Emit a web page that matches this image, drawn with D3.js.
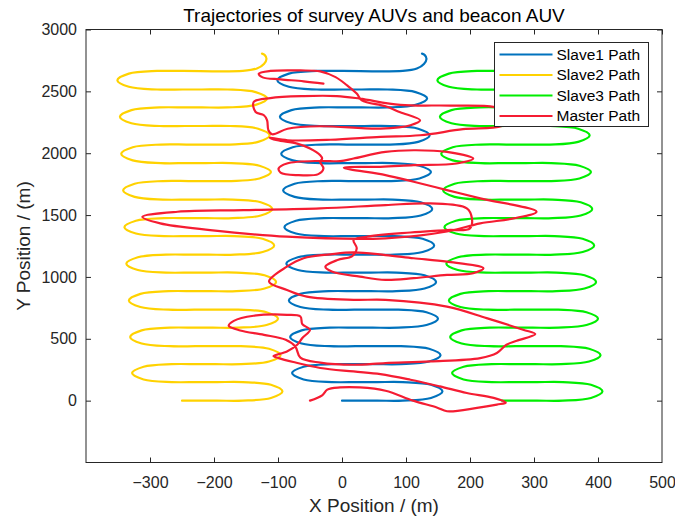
<!DOCTYPE html>
<html lang="en">

<head>
    <meta charset="UTF-8">
    <title>Trajectories of survey AUVs and beacon AUV</title>
    <script src="https://cdn.jsdelivr.net/npm/d3@7"></script>
    <style>
        body { margin: 0; background: #fff; }
        svg { font-family: "Liberation Sans", Arial, Helvetica, sans-serif; }
    </style>
</head>

<body>
    <svg id="chart" width="675" height="520"></svg>

    <script>
        // --- data (metres) ---

        // y of every straight survey pass, same for all three slaves
        const legY = [0, 150, 295, 440, 590, 735, 885, 1035, 1180, 1330, 1475, 1625, 1775, 1920, 2070, 2220, 2370, 2515, 2665]
        // x where each turn reaches furthest (Slave1 frame)
        const rightTurnX = [157, 154, 150, 147, 144, 141, 139, 137, 133]
        const leftTurnX = [-78, -81, -83, -87, -90, -92, -95, -97, -101]
        // last half-finished turn at the top
        const tailX = [95, 117, 128, 132, 129, 125]
        const tailY = [2666, 2685, 2722, 2762, 2795, 2805]

        const slaveNames = ['Slave1 Path', 'Slave2 Path', 'Slave3 Path']
        const slaveStartX = [0, -250, 250]

        // beacon (master) auv
        const masterX = [-50, -31, -23, -3, 28, 68, 111, 149, 164, 211, 242, 256, 237, 195, 153, 107, 60, 18, -34, -76,
            -99, -107, -86, -70, -62, -50, -62, -65, -86, -138, -169, -177, -159, -122, -88, -73, -65, -34, 18, 68,
            138, 216, 242, 257, 273, 302, 283, 226, 164, 68, 18, -55, -86, -114, -86, -60, -18, 18, 68, 112,
            164, 221, 205, 164, 112, 68, 28, -16, -26, -7, 16, 23, 18, 36, 107, 164, 200, 203, 195, 138,
            68, -34, -154, -257, -312, -284, -206, -86, 68, 164, 216, 268, 304, 216, 164, 112, 68, 3, 60, 112,
            179, 205, 164, 112, 68, 18, -3, -34, -86, -99, -96, -70, -37, -29, -34, -31, -34, -50, -70, -101,
            -113, -85, -18, 60, 122, 189, 250, 278, 239, 169, 91, 28, -8, -60, -112, -138, -135, -122, -117, -115,
            -109, -85, -34, 60, 107, 122, 91, 68, 31, 23, 8, -10, -34, -65, -112, -130, -124, -96, -60, -29]
        const masterY = [0, 43, 89, 107, 107, 80, 0, -57, -86, -59, -32, -16, 22, 62, 115, 169, 215, 236, 264, 312,
            344, 360, 398, 452, 506, 573, 618, 680, 694, 686, 645, 605, 567, 532, 492, 438, 347, 307, 290, 304,
            317, 344, 385, 452, 484, 538, 573, 667, 760, 815, 815, 841, 895, 962, 1083, 1151, 1183, 1199, 1177, 1151,
            1123, 1070, 1030, 1016, 990, 976, 1002, 1043, 1083, 1137, 1169, 1232, 1298, 1323, 1359, 1379, 1393, 1473, 1554, 1594,
            1581, 1554, 1540, 1527, 1486, 1433, 1379, 1325, 1312, 1367, 1433, 1473, 1527, 1635, 1702, 1769, 1823, 1883, 1890, 1903,
            1917, 1957, 2011, 2024, 2011, 1957, 1936, 1938, 1917, 1877, 1844, 1823, 1831, 1877, 1930, 1957, 1984, 2038, 2078, 2105,
            2125, 2105, 2109, 2132, 2145, 2194, 2220, 2307, 2373, 2385, 2391, 2441, 2462, 2462, 2446, 2414, 2333, 2307, 2266, 2186,
            2153, 2198, 2218, 2199, 2226, 2266, 2331, 2379, 2427, 2482, 2548, 2615, 2661, 2669, 2665, 2643, 2613, 2597, 2581, 2562]

        const xTicks = [-300, -200, -100, 0, 100, 200, 300, 400, 500]
        const yTicks = [0, 500, 1000, 1500, 2000, 2500, 3000]

        const colors = ['#0072bd', '#ffd200', '#00ee00', '#f51c32']

        // --- layout ---
        const width = 675, height = 520
        const margin = { top: 29.5, right: 13, bottom: 57.5, left: 86 }
        const axisColor = '#262626'
        const TURN_R = 62   // how far back from the apex a turn starts bending, in m
        const LEAD = 40     // extra straight bit before the bend, keeps the legs flat

        const svg = d3.select('#chart')

        const x = d3.scaleLinear().domain([-400, 500]).range([margin.left, width - margin.right])
        const y = d3.scaleLinear().domain([-500, 3000]).range([height - margin.bottom, margin.top])

        // build one lawnmower track: leg ends and turn apexes, smoothed by the curve
        const slaveTrack = (dx) => {
            const pts = [[dx + 0, legY[0]]]
            for (let i = 0; i < legY.length - 1; i++) {
                const right = i % 2 === 0
                const dir = right ? 1 : -1
                const apex = dx + (right ? rightTurnX[i / 2] : leftTurnX[(i - 1) / 2])
                const ym = (legY[i] + legY[i + 1]) / 2
                const hh = (legY[i + 1] - legY[i]) / 2
                pts.push([apex - dir * (TURN_R + LEAD), legY[i]])
                pts.push([apex - dir * TURN_R, legY[i]])
                pts.push([apex - dir * TURN_R * 0.29, ym - hh * 0.71])
                pts.push([apex, ym])
                pts.push([apex - dir * TURN_R * 0.29, ym + hh * 0.71])
                pts.push([apex - dir * TURN_R, legY[i + 1]])
                pts.push([apex - dir * (TURN_R + LEAD), legY[i + 1]])
            }
            tailX.forEach((tx, j) => pts.push([dx + tx, tailY[j]]))
            return pts
        }

        const line = d3.line()
            .x(d => x(d[0]))
            .y(d => y(d[1]))
            .curve(d3.curveCatmullRom.alpha(0.5))

        const tracks = slaveStartX.map(slaveTrack)
        tracks.push(masterX.map((v, i) => [v, masterY[i]]))

        // axes (MATLAB style: ticks pointing in, box all round)
        const gx = svg.append('g')
            .attr('transform', `translate(0,${height - margin.bottom})`)
            .call(d3.axisBottom(x).tickValues(xTicks).tickFormat(d3.format('d'))
                .tickSizeInner(-5).tickSizeOuter(0).tickPadding(14))
        const gy = svg.append('g')
            .attr('transform', `translate(${margin.left},0)`)
            .call(d3.axisLeft(y).tickValues(yTicks).tickFormat(d3.format('d'))
                .tickSizeInner(-5).tickSizeOuter(0).tickPadding(9))
        svg.append('g')
            .attr('transform', `translate(0,${margin.top})`)
            .call(d3.axisTop(x).tickValues(xTicks).tickSizeInner(-5).tickSizeOuter(0).tickFormat(''))
        svg.append('g')
            .attr('transform', `translate(${width - margin.right},0)`)
            .call(d3.axisRight(y).tickValues(yTicks).tickSizeInner(-5).tickSizeOuter(0).tickFormat(''))

        svg.selectAll('.domain').remove()
        svg.selectAll('.tick line').attr('stroke', axisColor)
        svg.selectAll('.tick text')
            .attr('fill', axisColor)
            .attr('font-size', 16)
            .attr('font-family', null)
        gx.selectAll('.tick').filter(d => d === 500).select('line').remove()

        // tracks
        svg.append('g')
            .selectAll('path')
            .data(tracks)
            .join('path')
            .attr('d', line)
            .attr('fill', 'none')
            .attr('stroke', (d, i) => colors[i])
            .attr('stroke-width', 2.2)
            .attr('stroke-linejoin', 'round')
            .attr('stroke-linecap', 'round')

        // box
        svg.append('rect')
            .attr('x', margin.left)
            .attr('y', margin.top)
            .attr('width', width - margin.left - margin.right)
            .attr('height', height - margin.top - margin.bottom)
            .attr('fill', 'none')
            .attr('stroke', axisColor)
            .attr('stroke-width', 1)

        // titles
        svg.append('text')
            .attr('x', (margin.left + width - margin.right) / 2)
            .attr('y', 22)
            .attr('text-anchor', 'middle')
            .attr('font-size', 19)
            .attr('fill', '#000')
            .text('Trajectories of survey AUVs and beacon AUV')

        svg.append('text')
            .attr('x', (margin.left + width - margin.right) / 2)
            .attr('y', 512)
            .attr('text-anchor', 'middle')
            .attr('font-size', 19)
            .attr('fill', axisColor)
            .text('X Position / (m)')

        svg.append('text')
            .attr('transform', `translate(30,${(margin.top + height - margin.bottom) / 2}) rotate(-90)`)
            .attr('text-anchor', 'middle')
            .attr('font-size', 19)
            .attr('fill', axisColor)
            .text('Y Position / (m)')

        // legend
        const legendNames = [...slaveNames, 'Master Path']
        const lg = svg.append('g').attr('transform', 'translate(494.5,42.5)')
        lg.append('rect')
            .attr('width', 154)
            .attr('height', 84)
            .attr('fill', '#fff')
            .attr('stroke', axisColor)
            .attr('stroke-width', 1)
        const item = lg.selectAll('g.item')
            .data(legendNames)
            .join('g')
            .attr('class', 'item')
            .attr('transform', (d, i) => `translate(0,${12 + i * 20.5})`)
        item.append('line')
            .attr('x1', 5).attr('x2', 58)
            .attr('stroke', (d, i) => colors[i])
            .attr('stroke-width', 2.2)
        item.append('text')
            .attr('x', 62)
            .attr('dy', '0.35em')
            .attr('font-size', 15.5)
            .attr('fill', '#000')
            .text(d => d)
    </script>
</body>

</html>
